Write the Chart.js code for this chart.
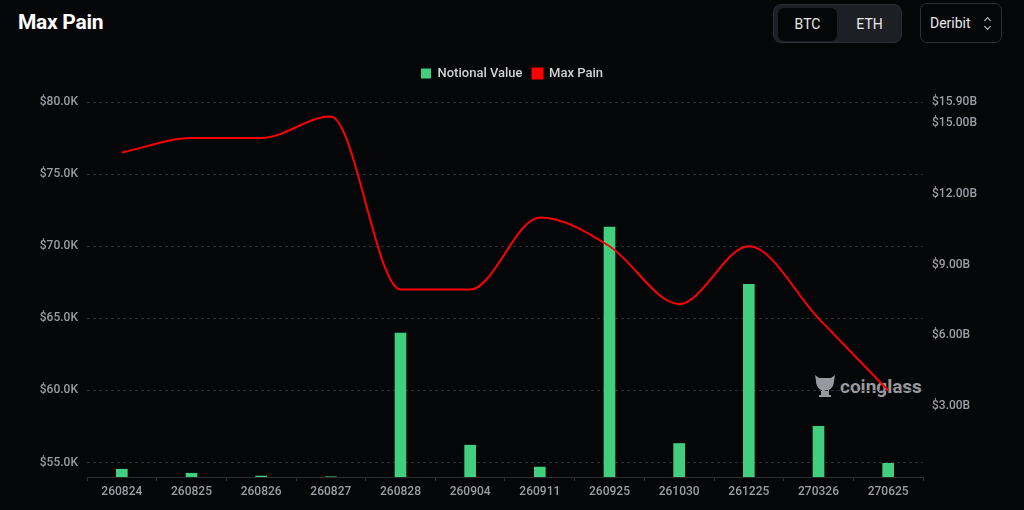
<!DOCTYPE html>
<html>
<head>
<meta charset="utf-8">
<script src="https://cdn.jsdelivr.net/npm/chart.js@4"></script>
<style>
  html, body { margin: 0; padding: 0; background: #050608; width: 1024px; height: 510px; overflow: hidden; font-family: Roboto, sans-serif; }
  .title { position: absolute; left: 18px; top: 10px; color: #fff; font-size: 21px; font-weight: 700; letter-spacing: -0.3px; }
  .toggle { position: absolute; left: 773px; top: 4px; width: 127px; height: 37px; background: #1d1f25; border: 1px solid #2a2d34; border-radius: 8px; }
  .toggle span { position: absolute; top: 3px; height: 33px; line-height: 33px; width: 59px; text-align: center; color: #e8e8e8; font-size: 14px; border-radius: 6px; }
  .toggle .on { left: 4px; background: #050608; }
  .toggle .off { left: 66px; }
  .exch { position: absolute; left: 920px; top: 3px; width: 80px; height: 38px; border: 1px solid #2d3036; border-radius: 7px; color: #e8e8e8; font-size: 14px; line-height: 38px; text-indent: 9px; }
  .exch b { position: absolute; right: 11px; width: 8px; height: 5px; border: solid #c8c8c8; border-width: 1.5px 1.5px 0 0; width: 4px; height: 4px; }
  .exch .up { top: 14px; transform: rotate(-45deg); }
  .exch .dn { top: 20px; transform: rotate(135deg); }
  .wm { position: absolute; left: 813px; top: 372px; color: #a9abb0; font-size: 19px; font-weight: 700; display: flex; align-items: center; gap: 3px; opacity: 0.9; }
  .box { position: absolute; left: 0; top: 52px; width: 1024px; height: 458px; }
</style>
</head>
<body>
<div class="title">Max Pain</div>
<div class="toggle"><span class="on">BTC</span><span class="off">ETH</span></div>
<div class="exch">Deribit<b class="up"></b><b class="dn"></b></div>
<div class="wm">
  <svg width="24" height="28" viewBox="0 0 24 28"><path fill="#a9abb0" d="M2 3l4 3h12l4-3-1 6c0 5-3 8-5 9v5h2v2H6v-2h2v-5c-2-1-5-4-5-9z"/></svg>
  <span>coinglass</span>
</div>
<div class="box"><canvas id="c"></canvas></div>
<script>
// expiry dates on the x axis
const expiries = ['260824', '260825', '260826', '260827', '260828', '260904', '260911', '260925', '261030', '261225', '270326', '270625'];
// notional value per expiry, USD
const notionalValue = [0.33e9, 0.16e9, 0.04e9, 0.01e9, 6.10e9, 1.35e9, 0.42e9, 10.6e9, 1.42e9, 8.17e9, 2.15e9, 0.58e9];
// max pain price per expiry, USD
const maxPain = [76500, 77500, 77500, 79000, 67000, 67000, 72000, 70000, 66000, 70000, 65000, 60000];
// axis ticks
const priceTicks = [55000, 60000, 65000, 70000, 75000, 80000];
const notionalTicks = [3e9, 6e9, 9e9, 12e9, 15e9, 15.9e9];

const gridColor = '#2a2d33';
const tickColor = '#9b9ea4';
const font = { family: 'Roboto', size: 12, weight: 500 };

// push the plot area a bit below the legend
const legendGap = {
  id: 'legendGap',
  beforeInit(chart) {
    const fit = chart.legend.fit;
    chart.legend.fit = function () { fit.call(this); this.height += 12; };
  }
};

new Chart(document.getElementById('c'), {
  type: 'bar',
  data: {
    labels: expiries,
    datasets: [
      {
        label: 'Notional Value',
        data: notionalValue,
        backgroundColor: '#41cf7f',
        yAxisID: 'yR',
        barThickness: 11,
        order: 1
      },
      {
        type: 'line',
        label: 'Max Pain',
        data: maxPain,
        borderColor: '#ff0000',
        backgroundColor: '#ff0000',
        borderWidth: 2,
        pointRadius: 0,
        cubicInterpolationMode: 'monotone',
        yAxisID: 'yL',
        order: 0
      }
    ]
  },
  options: {
    responsive: true,
    maintainAspectRatio: false,
    animation: false,
    layout: { padding: { top: 5, left: 0, right: 0, bottom: 0 } },
    scales: {
      x: {
        grid: { display: true, drawOnChartArea: false, drawTicks: true, tickLength: 4, color: gridColor },
        border: { display: true, color: gridColor, dash: [3, 3] },
        ticks: { color: tickColor, font, padding: 4, maxRotation: 0 },
        afterFit: (s) => { s.height = 33; }
      },
      yL: {
        position: 'left',
        min: 54000,
        max: 80000,
        grid: { color: gridColor, drawTicks: false },
        border: { display: false, dash: [3, 3] },
        afterBuildTicks: (s) => { s.ticks = priceTicks.map(v => ({ value: v })); },
        ticks: { color: tickColor, font, padding: 9, callback: (v) => '$' + (v / 1000).toFixed(1) + 'K' },
        afterFit: (s) => { s.width = 87; }
      },
      yR: {
        position: 'right',
        min: 0,
        max: 15.9e9,
        grid: { display: false, drawTicks: false },
        border: { display: false },
        afterBuildTicks: (s) => { s.ticks = notionalTicks.map(v => ({ value: v })); },
        ticks: { color: tickColor, font, padding: 9, callback: (v) => '$' + (v / 1e9).toFixed(2) + 'B' },
        afterFit: (s) => { s.width = 101; }
      }
    },
    plugins: {
      legend: {
        position: 'top',
        labels: {
          color: '#d0d2d6', boxWidth: 10, boxHeight: 10, padding: 10,
          font: { family: 'Roboto', size: 13, weight: 500 },
          sort: (a, b) => a.datasetIndex - b.datasetIndex
        }
      },
      tooltip: { enabled: false }
    }
  },
  plugins: [legendGap]
});
</script>
</body>
</html>
